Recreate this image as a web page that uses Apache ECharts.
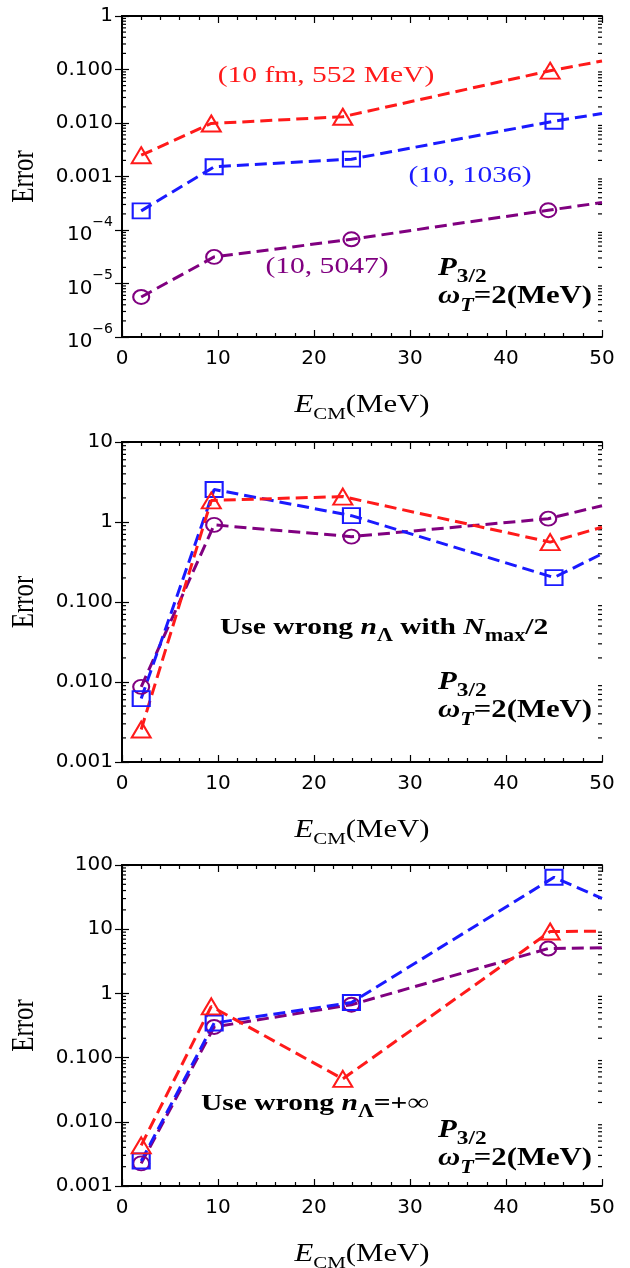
<!DOCTYPE html>
<html>
<head>
<meta charset="utf-8">
<script src="https://cdn.jsdelivr.net/npm/echarts@6/dist/echarts.min.js"></script>
<style>
  html, body { margin: 0; padding: 0; background: #fff; }
  #chart { width: 630px; height: 1268px; }
</style>
</head>
<body>
<div id="chart"></div>
<script>
// Energies of the computed points (last entry: value where the curve meets the frame at 50 MeV)
const eRed    = [2.0, 9.3, 23.0, 44.6, 50];
const eBlue   = [2.0, 9.6, 23.9, 45.0, 50];
const ePurple = [2.0, 9.6, 23.9, 44.4, 50];

// Top panel: regular calculation
const errTopRed    = [0.0025, 0.0098, 0.0131, 0.095, 0.144];
const errTopBlue   = [0.000228, 0.00152, 0.00211, 0.0108, 0.0151];
const errTopPurple = [5.6e-6, 3.14e-5, 6.7e-5, 2.34e-4, 3.26e-4];

// Middle panel: wrong n_Lambda with N_max/2
const errMidRed    = [0.00255, 1.86, 2.08, 0.56, 0.86];
const errMidBlue   = [0.0062, 2.55, 1.2, 0.202, 0.40];
const errMidPurple = [0.0087, 0.92, 0.656, 1.1, 1.6];

// Bottom panel: wrong n_Lambda = +inf
const errBotRed    = [0.0043, 0.628, 0.0466, 9.2, 9.3];
const errBotBlue   = [0.00245, 0.346, 0.72, 64.3, 30.3];
const errBotPurple = [0.00225, 0.30, 0.667, 5.0, 5.15];

// Axis ranges and tick labels
const xTicks = [0, 10, 20, 30, 40, 50];
const yRanges = [[1e-6, 1], [1e-3, 10], [1e-3, 100]];

const RED = '#ff1a1a', BLUE = '#1a1aff', PURPLE = '#800080';
const SANS = '"DejaVu Sans", sans-serif';
const SERIF = '"Liberation Serif", "Times New Roman", serif';
const WIDE = 1.23;   // horizontal stretch of the serif lettering

const grids = [
  { left: 122, top: 16,  width: 480, height: 321 },
  { left: 122, top: 442, width: 480, height: 320 },
  { left: 122, top: 865, width: 480, height: 321 }
];

function yLabel(v) {
  const p = Math.round(Math.log10(v));
  if (p >= 0) return String(Math.pow(10, p));
  if (p >= -3) return (Math.pow(10, p)).toFixed(3);
  return '{b|10}{s|\u2212' + (-p) + '}';
}

const xAxes = [], yAxes = [], series = [];
grids.forEach((g, i) => {
  const [ymin, ymax] = yRanges[i];
  const base = {
    gridIndex: i, type: 'value', min: 0, max: 50, interval: 10,
    axisLine: { lineStyle: { color: '#000', width: 2 } },
    axisTick: { inside: true, length: 7, lineStyle: { color: '#000', width: 1.2 } },
    minorTick: { show: true, splitNumber: 5, length: 4, lineStyle: { color: '#000', width: 1.2 } },
    splitLine: { show: false }
  };
  xAxes.push(Object.assign({}, base, {
    position: 'bottom',
    axisLabel: { fontFamily: SANS, fontSize: 20, color: '#000', margin: 12,
      formatter: v => (xTicks.indexOf(v) >= 0 ? String(v) : '') }
  }));
  xAxes.push(Object.assign({}, base, { position: 'top', axisLabel: { show: false } }));

  const ybase = {
    gridIndex: i, type: 'log', logBase: 10, min: ymin, max: ymax,
    axisLine: { lineStyle: { color: '#000', width: 2 } },
    axisTick: { inside: true, length: 7, lineStyle: { color: '#000', width: 1.2 } },
    minorTick: { show: false },
    splitLine: { show: false }
  };
  yAxes.push(Object.assign({}, ybase, {
    position: 'left',
    axisLabel: {
      fontFamily: SANS, fontSize: 20, color: '#000', margin: 9, formatter: yLabel,
      rich: {
        b: { fontFamily: SANS, fontSize: 20, color: '#000', verticalAlign: 'bottom', lineHeight: 30 },
        s: { fontFamily: SANS, fontSize: 14, color: '#000', verticalAlign: 'top', lineHeight: 30 }
      }
    }
  }));
  yAxes.push(Object.assign({}, ybase, { position: 'right', axisLabel: { show: false } }));

  // Decade subdivisions 2..9 on both vertical frame edges
  const minor = [];
  for (let p = Math.round(Math.log10(ymin)); p < Math.round(Math.log10(ymax)); p++) {
    for (let k = 2; k <= 9; k++) minor.push([0, k * Math.pow(10, p)]);
  }
  series.push({
    type: 'custom', xAxisIndex: 2 * i, yAxisIndex: 2 * i, silent: true, z: 1,
    data: minor,
    renderItem: (params, api) => {
      const l = api.coord([0, api.value(1)]);
      const r = api.coord([50, api.value(1)]);
      const st = { stroke: '#000', lineWidth: 1.2 };
      return { type: 'group', children: [
        { type: 'line', shape: { x1: l[0], y1: l[1], x2: l[0] + 4, y2: l[1] }, style: st },
        { type: 'line', shape: { x1: r[0], y1: r[1], x2: r[0] - 4, y2: r[1] }, style: st }
      ]};
    }
  });
});

// Open ellipse used for the purple markers
const ELLIPSE = 'path://M0,50A50,50 0 1,1 100,50A50,50 0 1,1 0,50Z';

function curve(i, xs, ys, color, symbol, size) {
  return {
    type: 'line', xAxisIndex: 2 * i, yAxisIndex: 2 * i, z: 3,
    data: xs.map((x, k) => ({
      value: [x, ys[k]],
      symbol: k === xs.length - 1 ? 'none' : symbol
    })),
    symbolSize: size,
    symbolKeepAspect: false,
    lineStyle: { color: color, width: 3, type: [12, 6] },
    itemStyle: { color: 'rgba(0,0,0,0)', borderColor: color, borderWidth: 2 },
    emphasis: { disabled: true },
    clip: true, animation: false
  };
}

const sets = [
  [errTopRed, errTopBlue, errTopPurple],
  [errMidRed, errMidBlue, errMidPurple],
  [errBotRed, errBotBlue, errBotPurple]
];
sets.forEach((s, i) => {
  series.push(curve(i, ePurple, s[2], PURPLE, ELLIPSE, [16, 14]));
  series.push(curve(i, eBlue, s[1], BLUE, 'rect', [17, 15]));
  series.push(curve(i, eRed, s[0], RED, 'triangle', [19, 16]));
});

// Text annotations: main glyphs get bottom padding so the subscripts sit lower
const serifRich = (size, extra) => Object.assign({ fontFamily: SERIF, fontSize: size, fill: '#000' }, extra || {});
const RAISE = [0, 0, 6, 0];
const stateRich = {
  P: serifRich(25, { fontWeight: 'bold', fontStyle: 'italic', verticalAlign: 'bottom', lineHeight: 26, padding: RAISE }),
  ps: serifRich(19, { fontWeight: 'bold', verticalAlign: 'bottom', lineHeight: 20 }),
  w: serifRich(25, { fontWeight: 'bold', fontStyle: 'italic', verticalAlign: 'bottom', lineHeight: 26, padding: RAISE }),
  ws: serifRich(18, { fontWeight: 'bold', fontStyle: 'italic', verticalAlign: 'bottom', lineHeight: 20 }),
  b: serifRich(25, { fontWeight: 'bold', verticalAlign: 'bottom', lineHeight: 26, padding: RAISE })
};
const useRich = {
  b: serifRich(24, { fontWeight: 'bold', verticalAlign: 'bottom', lineHeight: 26, padding: [0, 0, 5, 0] }),
  bi: serifRich(24, { fontWeight: 'bold', fontStyle: 'italic', verticalAlign: 'bottom', lineHeight: 26, padding: [0, 0, 5, 0] }),
  s: serifRich(18, { fontWeight: 'bold', verticalAlign: 'bottom', lineHeight: 20 })
};
const nameRich = {
  i: serifRich(25, { fontStyle: 'italic', verticalAlign: 'bottom', lineHeight: 28, padding: [0, 0, 5, 0] }),
  sub: serifRich(17, { verticalAlign: 'bottom', lineHeight: 20 }),
  n: serifRich(25, { verticalAlign: 'bottom', lineHeight: 28, padding: [0, 0, 5, 0] })
};

function txt(x, y, text, opts) {
  return Object.assign({ type: 'text', x: x, y: y, z: 10, scaleX: WIDE, silent: true,
    style: Object.assign({ text: text, verticalAlign: 'middle', align: 'left' }, opts || {}) });
}

const graphics = [
  txt(326, 76, '(10 fm, 552 MeV)', { fill: RED, font: '24px ' + SERIF, align: 'center' }),
  txt(470, 176, '(10, 1036)', { fill: BLUE, font: '24px ' + SERIF, align: 'center' }),
  txt(327, 267, '(10, 5047)', { fill: PURPLE, font: '24px ' + SERIF, align: 'center' }),
  txt(220, 632, '{b|Use wrong }{bi|n}{s|\u039b}{b| with }{bi|N}{s|max}{b|/2}', { rich: useRich }),
  txt(201, 1108, '{b|Use wrong }{bi|n}{s|\u039b}{b|=+\u221e}', { rich: useRich })
];
[274, 688, 1136].forEach(y => {
  graphics.push(txt(438, y, '{P|P}{ps|3/2}', { rich: stateRich }));
  graphics.push(txt(438, y + 28, '{w|\u03c9}{ws|T}{b|=2(MeV)}', { rich: stateRich }));
});
// Axis titles
grids.forEach(g => {
  graphics.push(txt(g.left + g.width / 2, g.top + g.height + 72, '{i|E}{sub|CM}{n|(MeV)}', { rich: nameRich, align: 'center' }));
  graphics.push({ type: 'text', x: 25, y: g.top + g.height / 2, z: 10, rotation: Math.PI / 2, scaleY: WIDE, silent: true,
    style: { text: 'Error', font: '25px ' + SERIF, fill: '#000', align: 'center', verticalAlign: 'middle' } });
});

const chart = echarts.init(document.getElementById('chart'), null, { renderer: 'canvas' });
chart.setOption({
  animation: false,
  backgroundColor: '#fff',
  grid: grids,
  xAxis: xAxes,
  yAxis: yAxes,
  series: series,
  graphic: graphics
});
</script>
</body>
</html>
